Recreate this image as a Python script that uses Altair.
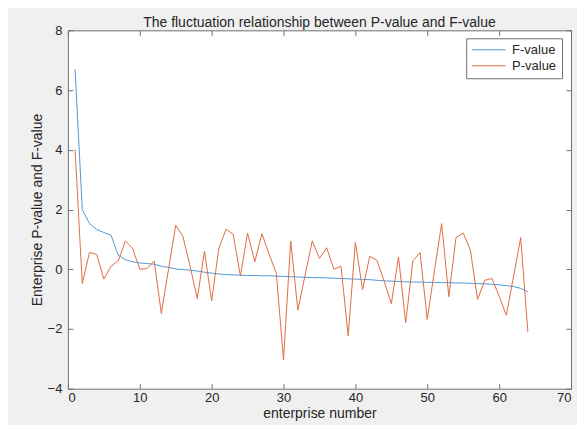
import altair as alt
import pandas as pd

enterprise = list(range(1, 65))

f_value = [6.7, 2.0, 1.53, 1.33, 1.23, 1.14, 0.47, 0.32, 0.25, 0.21,
           0.19, 0.17, 0.10, 0.06, 0.01, -0.01, -0.03, -0.06, -0.10, -0.13,
           -0.16, -0.18, -0.19, -0.20, -0.21, -0.21, -0.22, -0.22, -0.23, -0.24,
           -0.25, -0.26, -0.27, -0.28, -0.28, -0.29, -0.30, -0.31, -0.32, -0.33,
           -0.34, -0.35, -0.37, -0.39, -0.40, -0.41, -0.42, -0.43, -0.43, -0.44,
           -0.44, -0.45, -0.45, -0.46, -0.46, -0.47, -0.48, -0.49, -0.50, -0.52,
           -0.55, -0.58, -0.64, -0.76]

p_value = [4.0, -0.48, 0.56, 0.50, -0.33, 0.10, 0.28, 0.95, 0.70, 0.0,
           0.02, 0.28, -1.48, 0.0, 1.47, 1.10, 0.10, -0.98, 0.60, -1.06,
           0.70, 1.34, 1.17, -0.23, 1.21, 0.25, 1.19, 0.50, -0.14, -3.04,
           0.95, -1.37, -0.20, 0.95, 0.36, 0.72, 0.0, 0.10, -2.23, 0.90,
           -0.68, 0.43, 0.30, -0.40, -1.15, 0.41, -1.79, 0.28, 0.56, -1.68,
           -0.05, 1.53, -0.92, 1.06, 1.21, 0.64, -1.01, -0.37, -0.31, -0.90,
           -1.54, -0.25, 1.06, -2.10]

series_names = ["F-value", "P-value"]
series_colors = ["#4d9ad8", "#e06c42"]
x_ticks = [0, 10, 20, 30, 40, 50, 60, 70]
y_ticks = [-4, -2, 0, 2, 4, 6, 8]

df = pd.DataFrame({
    "enterprise": enterprise * 2,
    "value": f_value + p_value,
    "series": [series_names[0]] * len(f_value) + [series_names[1]] * len(p_value),
})

x_scale = alt.Scale(domain=[0, 70], nice=False)
y_scale = alt.Scale(domain=[-4, 8], nice=False)

color = alt.Color(
    "series:N",
    scale=alt.Scale(domain=series_names, range=series_colors),
    legend=alt.Legend(
        title=None, orient="none", legendX=399, legendY=8,
        strokeColor="#6e6e6e", fillColor="white", padding=5,
        symbolType="stroke", symbolSize=1156, symbolStrokeWidth=1,
        clipHeight=13,
        labelFont="Liberation Sans", labelFontSize=13, labelColor="#262626",
        labelOffset=6, rowPadding=2,
    ),
)

base = alt.Chart(df)

f_layer = base.transform_filter(alt.datum.series == "F-value").mark_line(strokeWidth=1).encode(
    x=alt.X("enterprise:Q", scale=x_scale,
            axis=alt.Axis(orient="bottom", values=x_ticks, title="enterprise number",
                          labelPadding=3, titlePadding=2, format="d")),
    y=alt.Y("value:Q", scale=y_scale,
            axis=alt.Axis(orient="left", values=y_ticks, title="Enterprise P-value and F-value",
                          labelPadding=6, titlePadding=3, format="d")),
    color=color,
)

p_layer = base.transform_filter(alt.datum.series == "P-value").mark_line(strokeWidth=1).encode(
    x=alt.X("enterprise:Q", scale=x_scale,
            axis=alt.Axis(orient="top", values=x_ticks, labels=False, title=None)),
    y=alt.Y("value:Q", scale=y_scale,
            axis=alt.Axis(orient="right", values=y_ticks, labels=False, title=None)),
    color=color,
)

chart = alt.layer(f_layer, p_layer).properties(
    width=504,
    height=359,
    autosize=alt.AutoSizeParams(type="none"),
    padding={"left": 60, "top": 22, "right": 6, "bottom": 36},
    background="#f0f0f0",
    title=alt.Title(
        "The fluctuation relationship between P-value and F-value",
        font="Liberation Sans", fontSize=14, fontWeight="normal", color="#262626",
        anchor="middle", offset=4, dy=10,
    ),
).configure_view(
    fill="white", stroke="#6e6e6e", strokeWidth=1,
).configure_axis(
    domain=False, grid=False, ticks=True, tickColor="#6e6e6e", tickSize=5, offset=-5,
    labelFont="Liberation Sans", labelFontSize=13, labelColor="#262626",
    titleFont="Liberation Sans", titleFontSize=14, titleFontWeight="normal", titleColor="#262626",
)

chart.save("out.html", embed_options={"renderer": "svg", "actions": False})
